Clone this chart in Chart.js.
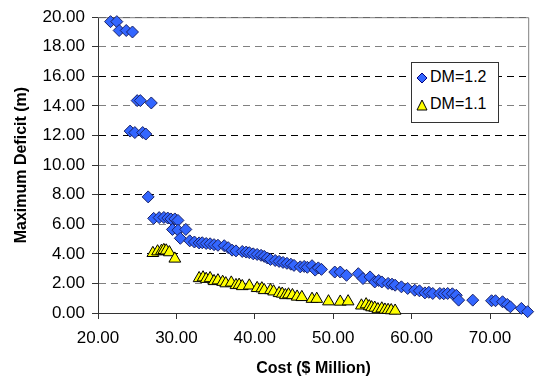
<!DOCTYPE html>
<html>
<head>
<meta charset="utf-8">
<script src="https://cdn.jsdelivr.net/npm/chart.js@4/dist/chart.umd.min.js"></script>
<style>
    html, body { margin: 0; padding: 0; background: #fff; }
    #wrap { position: relative; width: 537px; height: 379px; }
    #legend {
        position: absolute; left: 411px; top: 62px; width: 86px; height: 59px;
        border: 1px solid #333; background: #fff;
        font-family: "Liberation Sans", Arial, sans-serif; font-size: 16px; color: #000;
    }
    #legend .item { position: absolute; left: 4px; height: 20px; line-height: 20px; white-space: nowrap; }
    #legend svg { vertical-align: middle; margin-right: 2px; }
</style>
</head>
<body>
<div id="wrap">
    <canvas id="deficitChart" width="537" height="379"></canvas>
    <div id="legend">
        <div class="item" style="top:4px"><svg width="12" height="12"><polygon points="6,1 11,6 6,11 1,6" fill="#3366ff" stroke="#000080" stroke-width="1"/></svg>DM=1.2</div>
        <div class="item" style="top:31px"><svg width="12" height="12"><polygon points="6,1 11,11 1,11" fill="#ffff00" stroke="#000" stroke-width="1"/></svg>DM=1.1</div>
    </div>
</div>
<script>
// Ejes
const xTicks = [20, 30, 40, 50, 60, 70];
const yTicks = [0, 2, 4, 6, 8, 10, 12, 14, 16, 18, 20];

// Serie DM=1.2 (rombos azules)
const costDM12 = [21.6, 22.4, 22.7, 23.6, 24.4, 25.0, 25.4, 26.8, 24.1, 24.7, 25.7, 26.1, 26.4,
    27.1, 27.8, 28.4, 28.9, 29.3, 29.8, 30.2, 29.5, 30.2, 31.2, 30.5, 31.7, 32.3, 32.9, 33.3,
    33.8, 34.3, 34.8, 35.3, 36.1, 36.6, 37.1, 37.6, 38.4, 38.9, 39.3, 39.8, 40.3, 40.8, 41.2,
    41.6, 42.0, 42.6, 43.1, 43.6, 44.1, 44.6, 45.0, 45.8, 46.3, 46.7, 47.3, 47.7, 48.1, 48.5,
    50.2, 50.9, 51.7, 53.2, 53.8, 54.7, 55.3, 55.8, 56.2, 57.0, 57.5, 57.9, 58.7, 59.5, 60.4,
    61.0, 61.7, 62.2, 62.7, 63.6, 64.1, 64.6, 65.2, 65.7, 66.0, 67.8, 70.2, 70.7, 71.6, 72.2,
    72.6, 74.0, 74.8];
const deficitDM12 = [19.7, 19.7, 19.1, 19.1, 19.0, 14.36, 14.36, 14.2, 12.3, 12.2, 12.2, 12.1, 7.85,
    6.4, 6.45, 6.46, 6.42, 6.36, 6.36, 6.26, 5.65, 5.6, 5.65, 5.05, 4.88, 4.8, 4.74, 4.75,
    4.7, 4.68, 4.62, 4.58, 4.55, 4.42, 4.25, 4.2, 4.16, 4.12, 4.08, 4.0, 3.96, 3.9, 3.83,
    3.72, 3.62, 3.55, 3.49, 3.42, 3.36, 3.3, 3.22, 3.12, 3.15, 3.09, 3.2, 2.9, 3.05, 2.95,
    2.77, 2.77, 2.55, 2.66, 2.33, 2.44, 2.1, 2.2, 2.1, 2.0, 1.95, 1.88, 1.77, 1.66, 1.54,
    1.5, 1.36, 1.4, 1.32, 1.32, 1.3, 1.32, 1.3, 1.2, 0.87, 0.87, 0.83, 0.83, 0.76, 0.58,
    0.42, 0.31, 0.09];

// Serie DM=1.1 (triángulos amarillos)
const costDM11 = [27.0, 27.6, 28.1, 28.4, 28.7, 29.1, 29.8, 32.9, 33.4, 33.8, 34.3, 34.8, 35.3,
    35.9, 36.3, 37.0, 37.6, 38.0, 38.4, 39.3, 40.3, 40.9, 41.2, 42.0, 42.4, 43.1, 43.5, 43.9,
    44.3, 44.8, 45.4, 46.0, 47.3, 47.9, 49.4, 50.9, 51.9, 53.6, 54.2, 54.6, 54.9, 55.3, 55.7,
    56.2, 56.6, 57.0, 57.4, 57.9];
const deficitDM11 = [4.05, 4.16, 4.2, 4.25, 4.22, 4.1, 3.67, 2.35, 2.4, 2.3, 2.35, 2.15, 2.2,
    2.1, 2.0, 2.05, 1.88, 1.9, 1.81, 1.85, 1.68, 1.66, 1.54, 1.54, 1.45, 1.34, 1.3, 1.2,
    1.25, 1.2, 1.1, 1.07, 0.95, 0.95, 0.78, 0.76, 0.78, 0.5, 0.58, 0.45, 0.38, 0.35, 0.25,
    0.3, 0.22, 0.2, 0.18, 0.15];

const toPoints = (xs, ys) => xs.map((x, i) => ({ x: x, y: ys[i] }));

const tickFont = { family: '"Liberation Sans", Arial, sans-serif', size: 17 };
const titleFont = { family: '"Liberation Sans", Arial, sans-serif', size: 16, weight: 'bold' };

// Borde gris del área de trazado (arriba y derecha)
const plotBorder = {
    id: 'plotBorder',
    beforeDatasetsDraw(chart) {
        const { ctx, chartArea: a } = chart;
        ctx.save();
        ctx.strokeStyle = '#808080';
        ctx.lineWidth = 1;
        ctx.beginPath();
        ctx.moveTo(a.left, a.top + 0.5);
        ctx.lineTo(a.right - 0.5, a.top + 0.5);
        ctx.lineTo(a.right - 0.5, a.bottom);
        ctx.stroke();
        ctx.restore();
    }
};

new Chart(document.getElementById('deficitChart'), {
    type: 'scatter',
    data: {
        datasets: [{
            label: 'DM=1.2',
            data: toPoints(costDM12, deficitDM12),
            pointStyle: 'rectRot',
            pointRadius: 6,
            backgroundColor: '#3366ff',
            borderColor: '#1a2266',
            borderWidth: 1,
            clip: false
        }, {
            label: 'DM=1.1',
            data: toPoints(costDM11, deficitDM11),
            pointStyle: 'triangle',
            pointRadius: 6.8,
            backgroundColor: '#ffff00',
            borderColor: '#000000',
            borderWidth: 1,
            clip: false
        }]
    },
    options: {
        responsive: false,
        animation: false,
        layout: { padding: { top: 15, right: 5, left: 0, bottom: 0 } },
        plugins: {
            legend: { display: false },
            tooltip: { enabled: false }
        },
        scales: {
            x: {
                type: 'linear',
                min: 20,
                max: 75,
                afterBuildTicks: s => { s.ticks = xTicks.map(v => ({ value: v })); },
                afterFit: s => { s.height = 66; },
                ticks: {
                    color: '#000',
                    font: tickFont,
                    padding: 9,
                    maxRotation: 0,
                    callback: v => Number(v).toFixed(2)
                },
                grid: { drawOnChartArea: false, drawTicks: true, tickLength: 6, tickColor: '#333' },
                border: { color: '#333', width: 1 },
                title: { display: true, text: 'Cost ($ Million)', color: '#000', font: titleFont, padding: { top: 0, bottom: 1 } }
            },
            y: {
                type: 'linear',
                min: 0,
                max: 20,
                afterBuildTicks: s => { s.ticks = yTicks.map(v => ({ value: v })); },
                afterFit: s => { s.width = 98; },
                ticks: {
                    color: '#000',
                    font: tickFont,
                    padding: 7,
                    callback: v => Number(v).toFixed(2)
                },
                grid: {
                    color: c => (c.tick && c.tick.value % 4 === 0) ? '#000' : '#808080',
                    tickLength: 6,
                    tickColor: '#333'
                },
                border: { color: '#333', width: 1, dash: [7, 5] },
                title: { display: true, text: 'Maximum Deficit (m)', color: '#000', font: titleFont, padding: { top: 12, bottom: 0 } }
            }
        }
    },
    plugins: [plotBorder]
});
</script>
</body>
</html>
